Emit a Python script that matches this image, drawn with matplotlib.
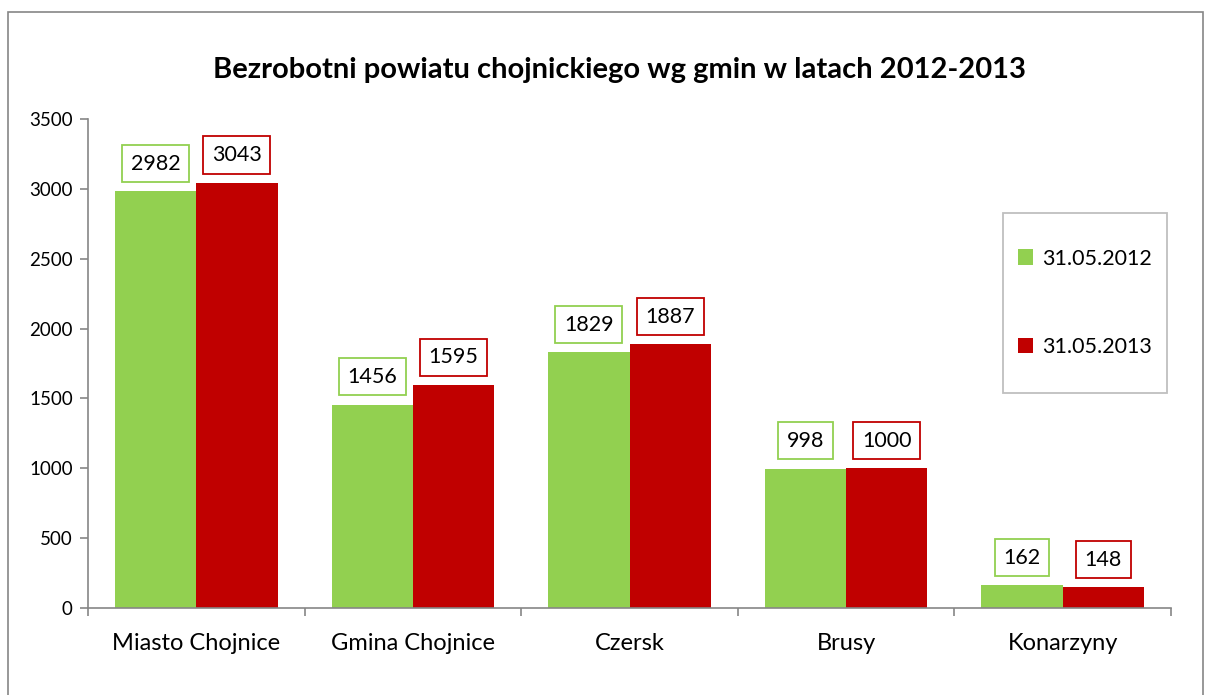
import numpy as np
import matplotlib.pyplot as plt
from matplotlib.patches import Rectangle

categories = ['Miasto Chojnice', 'Gmina Chojnice', 'Czersk', 'Brusy', 'Konarzyny']
series_2012 = [2982, 1456, 1829, 998, 162]
series_2013 = [3043, 1595, 1887, 1000, 148]
labels = ['31.05.2012', '31.05.2013']
green = '#92D050'
red = '#C00000'

plt.rcParams['font.family'] = ['Lato', 'DejaVu Sans']

W, H = 1205, 695
fig = plt.figure(figsize=(W / 100, H / 100), dpi=100)
ax = fig.add_axes([88 / W, 1 - 608 / H, (1171 - 88) / W, (608 - 119) / H])

# outer chart frame
fig.patches.append(Rectangle((8 / W, -0.1), (1203 - 8) / W, 1.1 - 12 / H,
                             transform=fig.transFigure, fill=False,
                             edgecolor='#868686', linewidth=1.2))

x = np.arange(len(categories))
w = 0.375
b1 = ax.bar(x - w / 2, series_2012, w, color=green, label=labels[0])
b2 = ax.bar(x + w / 2, series_2013, w, color=red, label=labels[1])

for bars, col in ((b1, green), (b2, red)):
    for r in bars:
        ax.annotate(str(int(r.get_height())), (r.get_x() + r.get_width() / 2, r.get_height()),
                    xytext=(0, 20), textcoords='offset points', ha='center', va='center',
                    fontsize=15.5,
                    bbox=dict(boxstyle='square,pad=0.4', fc='white', ec=col, lw=1.3))

ax.set_xlim(-0.5, len(categories) - 0.5)
ax.set_ylim(0, 3500)
ax.set_yticks(np.arange(0, 3501, 500))
ax.set_xticks(x)
ax.set_xticklabels(categories, fontsize=17)
ax.set_xticks(np.arange(-0.5, len(categories), 1), minor=True)
ax.tick_params(axis='x', which='major', length=0, pad=18)
ax.tick_params(axis='x', which='minor', length=6, color='#868686', width=1.2)
ax.tick_params(axis='y', labelsize=13.5, length=6, color='#868686', width=1.2, pad=5)
for s in ('top', 'right'):
    ax.spines[s].set_visible(False)
for s in ('left', 'bottom'):
    ax.spines[s].set_color('#868686')
    ax.spines[s].set_linewidth(1.2)

fig.suptitle('Bezrobotni powiatu chojnickiego wg gmin w latach 2012-2013',
             x=620 / W, y=1 - 70 / H, va='center', fontsize=21, fontweight='bold')

# legend box drawn separately, legend entries centred inside it
fig.patches.append(Rectangle((1003 / W, 1 - 393 / H), (1167 - 1003) / W, (393 - 213) / H,
                             transform=fig.transFigure, fill=False,
                             edgecolor='#bfbfbf', linewidth=1.3))
ax.legend(loc='center', bbox_to_anchor=(1085 / W, 1 - 303 / H), bbox_transform=fig.transFigure,
          fontsize=15.5, frameon=False,
          handlelength=0.7, handleheight=0.7, handletextpad=0.4,
          labelspacing=3.2, borderpad=0, borderaxespad=0)

fig.savefig('out.png', dpi=100)
